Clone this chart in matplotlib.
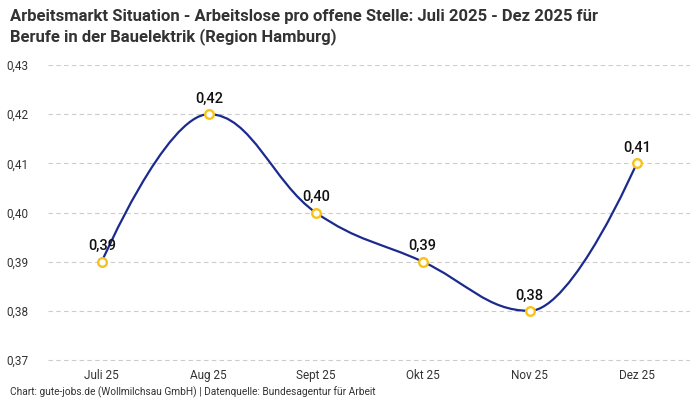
import numpy as np
import matplotlib
matplotlib.use("Agg")
import matplotlib.pyplot as plt
from matplotlib.path import Path
from matplotlib.patches import PathPatch

# data
months = ["Juli 25", "Aug 25", "Sept 25", "Okt 25", "Nov 25", "Dez 25"]
values = [0.39, 0.42, 0.40, 0.39, 0.38, 0.41]
yticks = [0.37, 0.38, 0.39, 0.40, 0.41, 0.42, 0.43]

title = ("Arbeitsmarkt Situation - Arbeitslose pro offene Stelle: Juli 2025 - Dez 2025 für\n"
         "Berufe in der Bauelektrik (Region Hamburg)")
credit = "Chart: gute-jobs.de (Wollmilchsau GmbH) | Datenquelle: Bundesagentur für Arbeit"

line_col = "#1b2a8f"
dot_col = "#f7c31a"
text_col = "#333333"

plt.rcParams['font.family'] = ['Roboto', 'DejaVu Sans']


def spline_path(xs, ys, smoothing=1.5):
    # smooth curve through the points, highcharts style control points
    n = len(xs)
    verts = [(xs[0], ys[0])]
    codes = [Path.MOVETO]
    ctrl = []
    for i in range(n):
        if i == 0 or i == n - 1:
            ctrl.append(None)
            continue
        x, y = xs[i], ys[i]
        px, py = xs[i - 1], ys[i - 1]
        nx, ny = xs[i + 1], ys[i + 1]
        d = smoothing + 1
        lx = (smoothing * x + px) / d
        ly = (smoothing * y + py) / d
        rx = (smoothing * x + nx) / d
        ry = (smoothing * y + ny) / d
        corr = ((ry - ly) * (rx - x)) / (rx - lx) + y - ry
        ly += corr
        ry += corr
        if ly > py and ly > y:
            ly = max(py, y)
            ry = 2 * y - ly
        elif ly < py and ly < y:
            ly = min(py, y)
            ry = 2 * y - ly
        if ry > ny and ry > y:
            ry = max(ny, y)
            ly = 2 * y - ry
        elif ry < ny and ry < y:
            ry = min(ny, y)
            ly = 2 * y - ry
        ctrl.append(((lx, ly), (rx, ry)))
    for i in range(1, n):
        c1 = ctrl[i - 1][1] if ctrl[i - 1] else (xs[i - 1], ys[i - 1])
        c2 = ctrl[i][0] if ctrl[i] else (xs[i], ys[i])
        verts += [c1, c2, (xs[i], ys[i])]
        codes += [Path.CURVE4] * 3
    return Path(verts, codes)


fig = plt.figure(figsize=(7, 4), dpi=100)
ax = fig.add_axes([0.069, 0.095, 0.917, 0.7425])

x = np.arange(len(months))
ax.add_patch(PathPatch(spline_path(list(x), values), facecolor="none",
                       edgecolor=line_col, lw=1.6, zorder=3))
ax.plot(x, values, "o", ms=6.2, mfc="white", mec=dot_col, mew=1.7, zorder=4)

for xi, v in zip(x, values):
    ax.annotate(f"{v:.2f}".replace(".", ","), (xi, v), xytext=(0, 6),
                textcoords="offset points", ha="center", va="bottom",
                fontsize=10.5, fontweight="medium", color="#111111", zorder=5)

ax.set_xlim(-0.5, len(months) - 0.5)
ax.set_ylim(0.3696, 0.43)
ax.set_yticks(yticks)
ax.set_yticklabels([f"{t:.2f}".replace(".", ",") for t in yticks])
ax.set_xticks(x)
ax.set_xticklabels(months)
ax.tick_params(length=0, labelsize=8.5, colors=text_col)
ax.tick_params(axis="y", pad=14)
ax.tick_params(axis="x", pad=5)
ax.grid(axis="y", color="#cccccc", ls=(0, (4, 3)), lw=0.8)
for s in ax.spines.values():
    s.set_visible(False)

fig.text(0.014, 0.978, title, ha="left", va="top", fontsize=12,
         fontweight="bold", color=text_col, linespacing=1.3)
fig.text(0.014, 0.006, credit, ha="left", va="bottom", fontsize=7.3, color=text_col)

fig.savefig("out.png", dpi=100)
